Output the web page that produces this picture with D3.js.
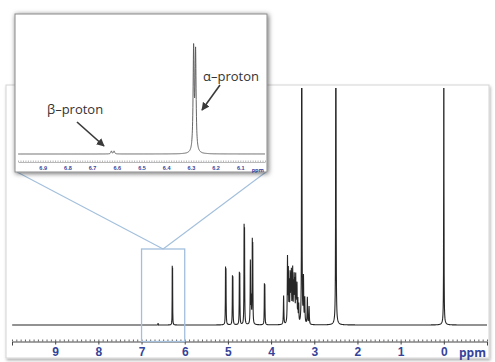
<!DOCTYPE html>
<html>
<head>
<meta charset="utf-8">
<script src="https://cdn.jsdelivr.net/npm/d3@7"></script>
<style>
  body { margin: 0; background: #fff; }
  svg { display: block; font-family: "Open Sans", sans-serif; }
</style>
</head>
<body>
<script>
// peak list: position (ppm), height, half width (ppm)
const peakPpm    = [6.622, 6.611, 6.289, 6.281, 5.055, 5.045, 4.895, 4.885, 4.735, 4.725, 4.625, 4.615,
                    4.48, 4.46, 4.435, 4.425, 4.155, 4.145,
                    3.71, 3.62, 3.60, 3.58, 3.56, 3.545, 3.53, 3.51, 3.50, 3.48, 3.465, 3.45, 3.43,
                    3.415, 3.40, 3.38, 3.36, 3.29, 3.25, 3.22, 3.16, 3.12, 2.50, 2.50, 0.00, 0.00];
const peakHeight = [1.6, 1.6, 55, 53, 52, 50, 44, 43, 47, 46, 90, 86,
                    63, 25, 76, 72, 37, 36,
                    29, 66, 50, 38, 45, 40, 47, 38, 46, 35, 42, 38, 44,
                    30, 36, 22, 18, 500, 45, 25, 27, 18, 600, 4, 400, 3];
const peakWidth  = [0.0025, 0.0025, 0.0025, 0.0025, 0.004, 0.004, 0.004, 0.004, 0.004, 0.004, 0.004, 0.004,
                    0.005, 0.006, 0.004, 0.004, 0.004, 0.004,
                    0.006, 0.006, 0.005, 0.005, 0.005, 0.005, 0.005, 0.005, 0.005, 0.005, 0.005, 0.005, 0.005,
                    0.005, 0.005, 0.005, 0.005, 0.004, 0.006, 0.006, 0.006, 0.006, 0.0035, 0.03, 0.003, 0.03];

const mainTicks  = [9, 8, 7, 6, 5, 4, 3, 2, 1, 0];
const insetTicks = [6.9, 6.8, 6.7, 6.6, 6.5, 6.4, 6.3, 6.2, 6.1];
const labelBeta  = "β–proton";
const labelAlpha = "α–proton";
const axisUnit   = "ppm";

const width = 495, height = 362;
const tickBlue = "#34449a";

const svg = d3.select("body").append("svg")
  .attr("width", width)
  .attr("height", height);

const defs = svg.append("defs");
const soft = defs.append("filter").attr("id", "soft")
  .attr("x", "-5%").attr("y", "-5%").attr("width", "110%").attr("height", "115%");
soft.append("feDropShadow").attr("dx", 1).attr("dy", 2).attr("stdDeviation", 1.5)
  .attr("flood-color", "#000").attr("flood-opacity", 0.3);
const heavy = defs.append("filter").attr("id", "heavy")
  .attr("x", "-10%").attr("y", "-10%").attr("width", "120%").attr("height", "125%");
heavy.append("feDropShadow").attr("dx", 1).attr("dy", 1).attr("stdDeviation", 2.5)
  .attr("flood-color", "#000").attr("flood-opacity", 0.6);

defs.append("clipPath").attr("id", "mainClip")
  .append("rect").attr("x", 12).attr("y", 88).attr("width", 475).attr("height", 245);
defs.append("clipPath").attr("id", "insetClip")
  .append("rect").attr("x", 16).attr("y", 15).attr("width", 250).attr("height", 156);

defs.append("marker").attr("id", "arrow")
  .attr("viewBox", "0 0 10 10").attr("refX", 9).attr("refY", 5)
  .attr("markerWidth", 5).attr("markerHeight", 5).attr("orient", "auto")
  .append("path").attr("d", "M0,0L10,5L0,10z").attr("fill", "#3a3a3a");

function intensity(ppm) {
  let s = 0;
  for (let i = 0; i < peakPpm.length; i++) {
    const u = (ppm - peakPpm[i]) / peakWidth[i];
    s += peakHeight[i] / (1 + u * u);
  }
  return s;
}

// sample grid plus the peak centres so narrow lines are not missed
function samples(lo, hi, step) {
  let pts = d3.range(lo, hi, step);
  peakPpm.forEach((p, i) => {
    [-1, -0.5, 0, 0.5, 1].forEach(k => {
      const q = p + k * peakWidth[i];
      if (q > lo && q < hi) pts.push(q);
    });
  });
  return pts.sort((a, b) => b - a);
}

// ---------- main spectrum ----------
const x = d3.scaleLinear().domain([10, -1]).range([12, 487]);
const y = d3.scaleLinear().domain([0, 100]).range([325, 226]);

svg.append("rect")
  .attr("x", 6).attr("y", 85).attr("width", 483).attr("height", 273)
  .attr("fill", "#fff").attr("stroke", "#d4d4d4")
  .attr("filter", "url(#soft)");

const line = d3.line()
  .x(d => x(d))
  .y(d => y(intensity(d)));

svg.append("path")
  .attr("clip-path", "url(#mainClip)")
  .attr("d", line(samples(-1, 10, 0.004)))
  .attr("fill", "none")
  .attr("stroke", "#262626")
  .attr("stroke-width", 1.1);

const axisY = 341.5;
const minor = svg.append("g").attr("transform", `translate(0,${axisY})`)
  .call(d3.axisBottom(x).tickValues(d3.range(-1, 10.01, 0.1)).tickSize(-2).tickSizeOuter(0).tickFormat(""));
minor.select(".domain").remove();
minor.selectAll("line").attr("stroke", "#666");

const major = svg.append("g").attr("transform", `translate(0,${axisY})`)
  .call(d3.axisBottom(x).tickValues(mainTicks).tickSize(3).tickSizeOuter(4).tickPadding(3));
major.select(".domain").attr("stroke", "#444");
major.selectAll(".tick line").attr("stroke", "#444");
major.selectAll("text")
  .attr("fill", tickBlue).attr("font-size", 12).attr("font-weight", "bold");

svg.append("text")
  .attr("x", x(-1) - 1).attr("y", axisY + 15)
  .attr("text-anchor", "end")
  .attr("fill", tickBlue).attr("font-size", 12).attr("font-weight", "bold")
  .text(axisUnit);

// zoom window and connector lines
const zoomBlue = "#a3bfdc";
const boxTop = 249;
svg.append("rect")
  .attr("x", x(7)).attr("y", boxTop)
  .attr("width", x(6) - x(7)).attr("height", axisY - boxTop)
  .attr("fill", "none").attr("stroke", zoomBlue).attr("stroke-width", 1.3);
[17, 266].forEach(ex => {
  svg.append("line")
    .attr("x1", x(6.5)).attr("y1", boxTop)
    .attr("x2", ex).attr("y2", 172)
    .attr("stroke", zoomBlue).attr("stroke-width", 1.1);
});

// ---------- inset ----------
const xi = d3.scaleLinear().domain([7.0, 6.0]).range([18, 265]);
const yi = d3.scaleLinear().domain([0, 60]).range([154, 43]);

svg.append("rect")
  .attr("x", 15).attr("y", 14).attr("width", 252).attr("height", 158)
  .attr("fill", "#fff").attr("stroke", "#8a8a8a").attr("stroke-width", 1)
  .attr("filter", "url(#heavy)");

const insetLine = d3.line()
  .x(d => xi(d))
  .y(d => yi(intensity(d)));

svg.append("path")
  .attr("clip-path", "url(#insetClip)")
  .attr("d", insetLine(samples(6.0, 7.0, 0.0005)))
  .attr("fill", "none")
  .attr("stroke", "#555")
  .attr("stroke-width", 0.9);

const insetAxisY = 162;
const iminor = svg.append("g").attr("transform", `translate(0,${insetAxisY})`)
  .call(d3.axisBottom(xi).tickValues(d3.range(6.0, 7.001, 0.01)).tickSize(-1.5).tickSizeOuter(0).tickFormat(""));
iminor.select(".domain").attr("stroke", "#888").attr("stroke-width", 0.6);
iminor.selectAll("line").attr("stroke", "#888").attr("stroke-width", 0.6);

const imajor = svg.append("g").attr("transform", `translate(0,${insetAxisY})`)
  .call(d3.axisBottom(xi).tickValues(insetTicks).tickSize(0).tickPadding(4).tickFormat(d3.format(".1f")));
imajor.select(".domain").remove();
imajor.selectAll("text")
  .attr("fill", tickBlue).attr("font-size", 5.5).attr("font-weight", "bold");

svg.append("text")
  .attr("x", xi(6.0) - 1).attr("y", insetAxisY + 9.5)
  .attr("text-anchor", "end")
  .attr("fill", tickBlue).attr("font-size", 5.5).attr("font-weight", "bold")
  .text(axisUnit);

// labels and arrows
svg.append("text")
  .attr("x", 47).attr("y", 114)
  .attr("font-size", 13).attr("fill", "#333")
  .text(labelBeta);
svg.append("line")
  .attr("x1", 77).attr("y1", 122).attr("x2", 104).attr("y2", 146)
  .attr("stroke", "#3a3a3a").attr("stroke-width", 1.6)
  .attr("marker-end", "url(#arrow)");

svg.append("text")
  .attr("x", 203).attr("y", 81)
  .attr("font-size", 13).attr("fill", "#333")
  .text(labelAlpha);
svg.append("line")
  .attr("x1", 220).attr("y1", 85).attr("x2", 202).attr("y2", 110)
  .attr("stroke", "#3a3a3a").attr("stroke-width", 1.6)
  .attr("marker-end", "url(#arrow)");
</script>
</body>
</html>
